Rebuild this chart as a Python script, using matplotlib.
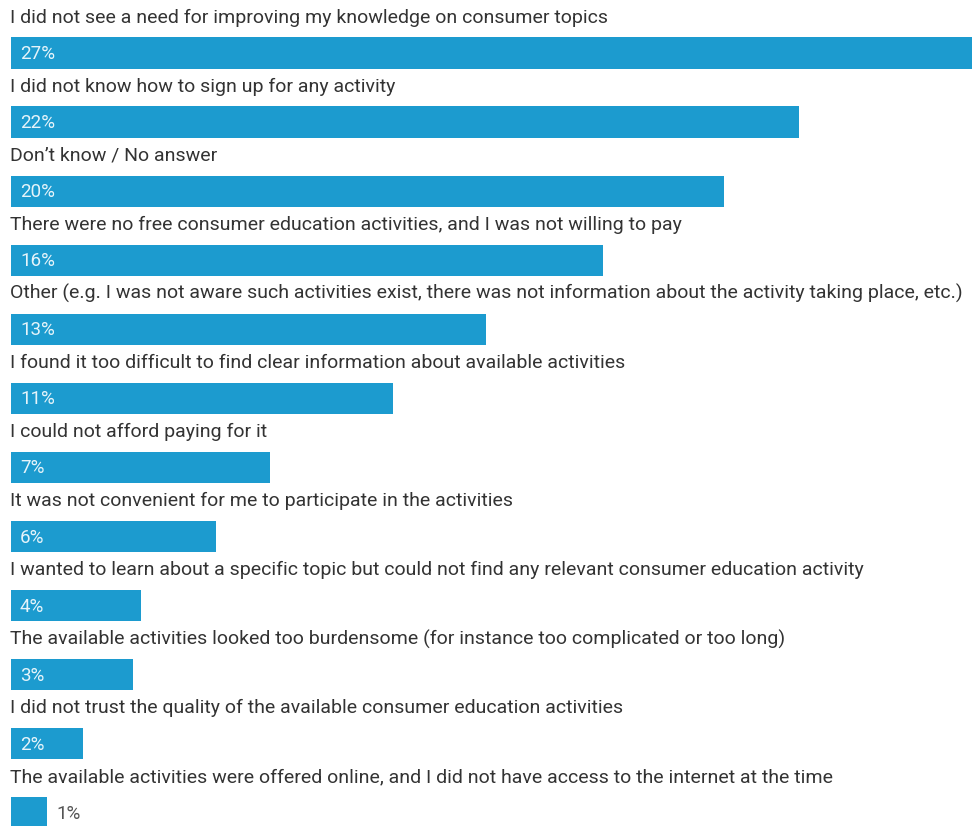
import matplotlib.pyplot as plt

plt.rcParams['font.family'] = ['Roboto', 'DejaVu Sans']

reasons = [
    "I did not see a need for improving my knowledge on consumer topics",
    "I did not know how to sign up for any activity",
    "Don\u2019t know / No answer",
    "There were no free consumer education activities, and I was not willing to pay",
    "Other (e.g. I was not aware such activities exist, there was not information about the activity taking place, etc.)",
    "I found it too difficult to find clear information about available activities",
    "I could not afford paying for it",
    "It was not convenient for me to participate in the activities",
    "I wanted to learn about a specific topic but could not find any relevant consumer education activity",
    "The available activities looked too burdensome (for instance too complicated or too long)",
    "I did not trust the quality of the available consumer education activities",
    "The available activities were offered online, and I did not have access to the internet at the time",
]
shares = [26.7, 21.9, 19.8, 16.45, 13.2, 10.6, 7.2, 5.7, 3.6, 3.4, 2.0, 1.0]

bar_color = "#1c9bcf"
text_color = "#333333"

fig = plt.figure(figsize=(9.72, 8.26), dpi=100)
# axes start where the bars start; the longest bar runs to the right edge
ax = fig.add_axes([11 / 972, 0, 961 / 972, 1])
ax.set_xlim(0, max(shares))
ax.set_ylim(11.2, -0.768)
ax.axis("off")

pos = list(range(len(reasons)))
ax.barh(pos, shares, height=0.45, color=bar_color)

for i, (reason, v) in enumerate(zip(reasons, shares)):
    ax.text(-0.03, i - 0.51, reason, ha="left", va="center",
            fontsize=14, color=text_color)
    label = f"{round(v)}%"
    if v < 1.5:
        ax.text(v + 0.25, i + 0.02, label, ha="left", va="center",
                fontsize=13.5, color="#555555")
    else:
        ax.text(0.25, i + 0.02, label, ha="left", va="center",
                fontsize=13.5, color="#e6f4fa")

fig.savefig("out.png", dpi=100)
